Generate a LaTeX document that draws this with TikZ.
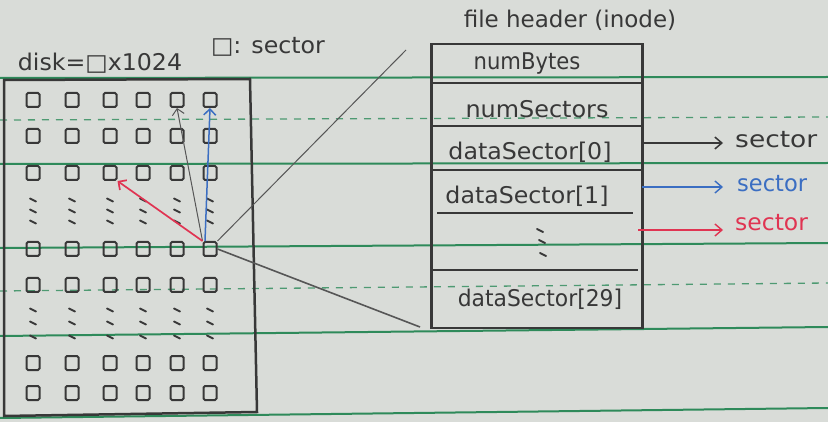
\documentclass[tikz,border=0pt]{standalone}
\usepackage{fontspec}
\setmainfont{DejaVu Sans}
\usetikzlibrary{arrows.meta}
\definecolor{paper}{HTML}{D9DCD8}
\definecolor{rule}{HTML}{2E8A5A}
\definecolor{ruledash}{HTML}{4E9A72}
\definecolor{pencil}{HTML}{383838}
\definecolor{penblue}{HTML}{3B6EC2}
\definecolor{penred}{HTML}{E03452}
\newcommand\handsize{\fontsize{23}{25}\selectfont}
\begin{document}
\begin{tikzpicture}[x=1pt,y=-1pt,
  hand/.style={font=\handsize, text=pencil, inner sep=0pt},
  sq/.style={draw=pencil, line width=2pt, minimum width=13pt, minimum height=14pt, inner sep=0pt, rounded corners=1.5pt},
  dotstroke/.style={draw=pencil, line width=2pt, line cap=round},
  tip/.style={-{Straight Barb[length=6pt,width=12pt]}},
  sectip/.style={-{Straight Barb[length=7pt,width=12pt]}},
  solidrule/.style={draw=rule, line width=2pt},
  dashrule/.style={draw=ruledash, line width=1.3pt, dash pattern=on 7pt off 7pt}]
\useasboundingbox (0,0) rectangle (828,422);
\fill[paper] (0,0) rectangle (828,422);
% ruled paper
\foreach \l/\r in {78/77,164/163,248/243,336/327,418/408}
  \draw[solidrule] (0,\l) -- (828,\r);
\foreach \l/\r in {120/117,291/283}
  \draw[dashrule] (0,\l) -- (828,\r);
% disk box
\draw[pencil, line width=2.5pt] (4,80) -- (250,79) -- (257,412) -- (4,416) -- cycle;
% sectors
\foreach \r/\y in {1/100,2/136,3/173,5/249,6/285,8/363,9/393}
  \foreach \c/\x in {1/33,2/72,3/110,4/143,5/177,6/210}
    \node[sq] (s\r\c) at (\x,\y) {};
\foreach \x in {33,72,110,143,177,210}
  \foreach \y in {200,211,222,310,323,337}
    \draw[dotstroke] (\x-3,\y-1.5) -- (\x+3,\y+1.5);
% labels
\node[hand] (title) at (570,20) {file header (inode)};
\node[hand, xscale=1.03] (disklbl) at (100,63) {disk=□x1024};
\node[hand, xscale=1.03] (seclbl) at (268,47) {□: sector};
% arrows in disk
\draw[pencil!85, line width=1pt, tip] (s56.north west) -- (s15.south);
\draw[penblue, line width=1.5pt, tip] ([xshift=-5pt]s56.north) -- (s16.south);
\draw[penred, line width=1.7pt, tip] (s56.north west) -- (s33.south east);
% inode
\node[draw=pencil, line width=2.5pt, minimum width=211pt, minimum height=284pt, inner sep=0pt, anchor=north west] (inode) at (430,43) {};
\draw[pencil, line width=2pt] (430,83) -- (641,83);
\draw[pencil, line width=2pt] (430,126) -- (641,126);
\draw[pencil, line width=2pt] (430,170) -- (641,170);
\draw[pencil, line width=1.6pt] (437,213) -- (633,213);
\draw[pencil, line width=1.6pt] (433,270) -- (638,270);
\node[hand, xscale=0.92] (nb) at (527,64) {numBytes};
\node[hand, xscale=1.04] (ns) at (537,109) {numSectors};
\node[hand, xscale=1.03] (d0) at (530,152) {dataSector[0]};
\node[hand, xscale=1.03] (d1) at (527,196) {dataSector[1]};
\node[hand, xscale=0.95] (d29) at (540,299) {dataSector[29]};
\draw[dotstroke] (537,229) -- (543,232);
\draw[dotstroke] (539,240) -- (545,243);
\draw[dotstroke] (540,253) -- (546,256);
% zoom lines
\coordinate (zt) at (406,50);
\coordinate (zb) at (420,327);
\draw[pencil!85, line width=1pt] (s56.north east) -- (zt);
\draw[pencil!85, line width=1.6pt] (s56.east) -- (zb);
% pointers to sectors
\node[hand, xscale=1.15, anchor=west] (sec0) at (735,140) {sector};
\node[hand, text=penblue, xscale=0.98, anchor=west] (sec1) at (737,184) {sector};
\node[hand, text=penred, xscale=1.02, anchor=west] (sec2) at (735,223) {sector};
\coordinate (r0) at (642,143);
\coordinate (r1) at (642,187);
\coordinate (r2) at (638,230);
\draw[pencil, line width=1.5pt, sectip, shorten >=12pt] (r0) -- (r0 -| sec0.west);
\draw[penblue, line width=1.4pt, sectip, shorten >=14pt] (r1) -- (r1 -| sec1.west);
\draw[penred, line width=1.4pt, sectip, shorten >=12pt] (r2) -- (r2 -| sec2.west);
\end{tikzpicture}
\end{document}
